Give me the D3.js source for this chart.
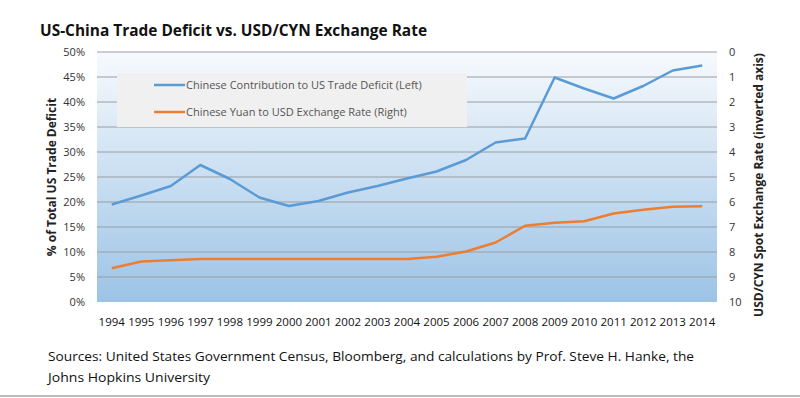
<!DOCTYPE html>
<html>
<head>
<meta charset="utf-8">
<script src="https://cdn.jsdelivr.net/npm/d3@7"></script>
<style>
  body { margin: 0; background: #fff; }
  svg text { font-family: "Open Sans", "Liberation Sans", sans-serif; }
</style>
</head>
<body>
<div id="chart"></div>
<script>
const width = 800;
const height = 398;

// data
const years = [1994, 1995, 1996, 1997, 1998, 1999, 2000, 2001, 2002, 2003, 2004,
    2005, 2006, 2007, 2008, 2009, 2010, 2011, 2012, 2013, 2014];
const deficitShare = [19.5, 21.3, 23.2, 27.4, 24.6, 20.9, 19.2, 20.2, 21.9, 23.2, 24.7,
    26.1, 28.4, 31.9, 32.7, 44.9, 42.7, 40.7, 43.2, 46.3, 47.3];
const yuanRate = [8.65, 8.38, 8.33, 8.28, 8.28, 8.28, 8.28, 8.28, 8.28, 8.28, 8.28,
    8.19, 7.98, 7.62, 6.95, 6.83, 6.77, 6.46, 6.31, 6.19, 6.17];
const leftTicks = [0, 5, 10, 15, 20, 25, 30, 35, 40, 45, 50];
const rightTicks = [0, 1, 2, 3, 4, 5, 6, 7, 8, 9, 10];
const seriesNames = ["Chinese Contribution to US Trade Deficit (Left)",
    "Chinese Yuan to USD Exchange Rate (Right)"];

const plot = { left: 97, right: 717, top: 52, bottom: 302 };

const svg = d3.select("#chart")
    .append("svg")
    .attr("width", width)
    .attr("height", height);

const defs = svg.append("defs");
const grad = defs.append("linearGradient")
    .attr("id", "bg")
    .attr("x1", 0).attr("y1", 0)
    .attr("x2", 0).attr("y2", 1);
grad.append("stop").attr("offset", "0%").attr("stop-color", "#f7fafd");
grad.append("stop").attr("offset", "100%").attr("stop-color", "#9cc3e6");

const x = d3.scaleBand()
    .domain(years)
    .range([plot.left, plot.right]);
const yLeft = d3.scaleLinear()
    .domain([0, 50])
    .range([plot.bottom, plot.top]);
const yRight = d3.scaleLinear()
    .domain([0, 10])
    .range([plot.top, plot.bottom]);
const cx = d => x(d) + x.bandwidth() / 2;

// title
svg.append("text")
    .attr("x", 40)
    .attr("y", 36)
    .attr("font-size", 16)
    .attr("font-weight", "bold")
    .attr("fill", "#111")
    .attr("textLength", 387)
    .attr("lengthAdjust", "spacingAndGlyphs")
    .text("US-China Trade Deficit vs. USD/CYN Exchange Rate");

// plot background
svg.append("rect")
    .attr("x", plot.left)
    .attr("y", plot.top)
    .attr("width", plot.right - plot.left)
    .attr("height", plot.bottom - plot.top)
    .attr("fill", "url(#bg)");

// gridlines
svg.append("g")
    .selectAll("line")
    .data(leftTicks.filter(d => d > 0))
    .join("line")
    .attr("x1", plot.left)
    .attr("x2", plot.right)
    .attr("y1", d => yLeft(d))
    .attr("y2", d => yLeft(d))
    .attr("stroke", "#9a9ea3")
    .attr("stroke-width", 1.2);

// left axis
const gl = svg.append("g")
    .attr("transform", `translate(${plot.left - 9},0)`)
    .call(d3.axisLeft(yLeft).tickValues(leftTicks).tickSize(0).tickFormat(d => d + "%"));
gl.select(".domain").remove();
gl.selectAll("text")
    .attr("font-size", 11)
    .attr("fill", "#333")
    .attr("font-family", "'Open Sans', sans-serif");

// right axis
const gr = svg.append("g")
    .attr("transform", `translate(${plot.right + 9},0)`)
    .call(d3.axisRight(yRight).tickValues(rightTicks).tickSize(0));
gr.select(".domain").remove();
gr.selectAll("text")
    .attr("font-size", 11)
    .attr("fill", "#333")
    .attr("font-family", "'Open Sans', sans-serif");

// bottom axis
const gb = svg.append("g")
    .attr("transform", `translate(0,${plot.bottom + 13})`)
    .call(d3.axisBottom(x).tickSize(0));
gb.select(".domain").remove();
gb.selectAll("text")
    .attr("font-size", 11.5)
    .attr("fill", "#111")
    .attr("font-family", "'Liberation Sans Narrow', 'Open Sans', sans-serif");

// axis titles
svg.append("text")
    .attr("transform", `translate(56,${(plot.top + plot.bottom) / 2}) rotate(-90)`)
    .attr("text-anchor", "middle")
    .attr("font-size", 12)
    .attr("font-weight", "bold")
    .attr("fill", "#222")
    .text("% of Total US Trade Deficit");

svg.append("text")
    .attr("transform", `translate(763,${(plot.top + plot.bottom) / 2 + 8}) rotate(-90)`)
    .attr("text-anchor", "middle")
    .attr("font-size", 12)
    .attr("font-weight", "bold")
    .attr("fill", "#222")
    .text("USD/CYN Spot Exchange Rate (inverted axis)");

// lines
const lineLeft = d3.line()
    .x((d, i) => cx(years[i]))
    .y(d => yLeft(d));
const lineRight = d3.line()
    .x((d, i) => cx(years[i]))
    .y(d => yRight(d));

svg.append("path")
    .datum(yuanRate)
    .attr("d", lineRight)
    .attr("fill", "none")
    .attr("stroke", "#ed7d31")
    .attr("stroke-width", 2.5)
    .attr("stroke-linejoin", "round");

// legend box
const legend = svg.append("g");
legend.append("rect")
    .attr("x", 117)
    .attr("y", 73)
    .attr("width", 350)
    .attr("height", 54)
    .attr("fill", "#f0f0f0");

svg.append("path")
    .datum(deficitShare)
    .attr("d", lineLeft)
    .attr("fill", "none")
    .attr("stroke", "#5b9bd5")
    .attr("stroke-width", 2.5)
    .attr("stroke-linejoin", "round");

const legendColors = ["#5b9bd5", "#ed7d31"];
seriesNames.forEach((name, i) => {
    const yy = 85 + i * 27;
    legend.append("line")
        .attr("x1", 154).attr("x2", 185)
        .attr("y1", yy).attr("y2", yy)
        .attr("stroke", legendColors[i])
        .attr("stroke-width", 2.5);
    legend.append("text")
        .attr("x", 186)
        .attr("y", yy + 4)
        .attr("font-size", 11)
        .attr("fill", "#555")
        .text(name);
});

// sources
svg.append("text")
    .attr("x", 48)
    .attr("y", 361)
    .attr("font-size", 13)
    .attr("fill", "#111")
    .attr("textLength", 646)
    .attr("lengthAdjust", "spacingAndGlyphs")
    .text("Sources: United States Government Census, Bloomberg, and calculations by Prof. Steve H. Hanke, the");
svg.append("text")
    .attr("x", 48)
    .attr("y", 382)
    .attr("font-size", 13)
    .attr("fill", "#111")
    .attr("textLength", 162)
    .attr("lengthAdjust", "spacingAndGlyphs")
    .text("Johns Hopkins University");

// bottom border
svg.append("line")
    .attr("x1", 0).attr("x2", width)
    .attr("y1", 396).attr("y2", 396)
    .attr("stroke", "#bbb")
    .attr("stroke-width", 2);
</script>
</body>
</html>
